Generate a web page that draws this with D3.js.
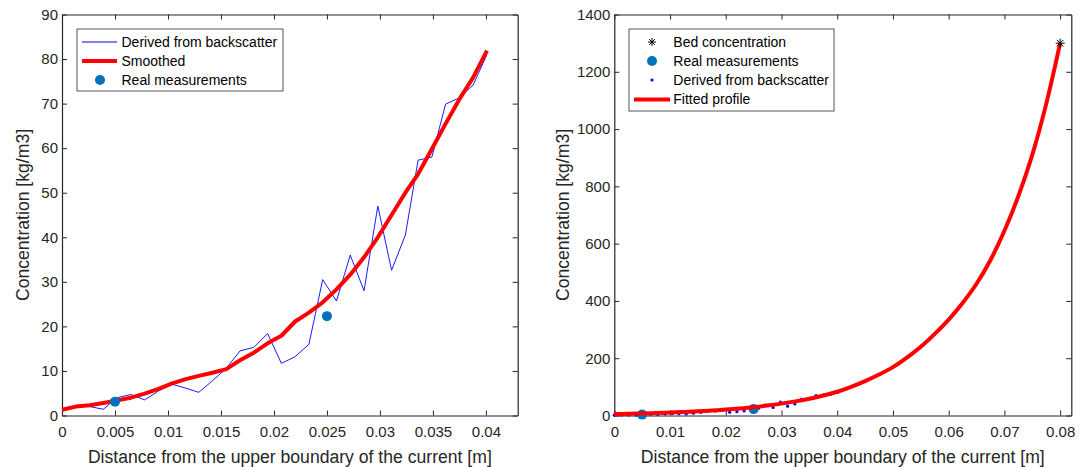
<!DOCTYPE html>
<html><head><meta charset="utf-8">
<script src="https://cdn.jsdelivr.net/npm/d3@7"></script>
<style>
body{margin:0;background:#fff;}
svg{display:block;font-family:"Liberation Sans",Arial,Helvetica,sans-serif;}
</style></head>
<body><svg id="chart" width="1091" height="467"></svg>
<script>
// ---- data ----
const derivedX = [0,0.0013,0.0026,0.0039,0.0052,0.0065,0.0078,0.0091,0.0104,0.0116,0.0129,0.0142,0.0155,0.0168,0.0181,0.0194,0.0207,0.0220,0.0233,0.0246,0.0259,0.0272,0.0285,0.0298,0.0311,0.0324,0.0336,0.0349,0.0362,0.0375,0.0388,0.0401];
const derivedY = [1.2,2.1,2.0,1.4,4.0,4.7,3.5,5.5,7.0,6.2,5.2,7.8,10.6,14.5,15.3,18.4,11.7,13.2,16.0,30.5,25.7,36.0,28.0,47.0,32.6,40.5,57.3,58.0,69.9,71.3,74.2,81.0];
const smoothedY = [1.3,2.0,2.3,2.8,3.4,4.0,4.9,6.0,7.2,8.1,8.9,9.6,10.4,12.4,14.1,16.2,17.9,21.1,23.1,25.4,28.3,31.6,35.5,40.0,45.0,50.0,54.2,59.8,65.5,71.0,75.9,81.9];
const realX = [0.005,0.025];
const realY = [3.1,22.3];
const bedX = [0.08];
const bedY = [1300];
const fitX = [0,0.0025,0.005,0.0075,0.01,0.0125,0.015,0.0175,0.02,0.0225,0.025,0.0275,0.03,0.0325,0.035,0.0375,0.04,0.0425,0.045,0.0475,0.05,0.0525,0.055,0.0575,0.06,0.0625,0.065,0.0675,0.07,0.0725,0.075,0.0775,0.08];
const fitY = [5,6,7.2,8.6,10.3,12.3,14.6,17.4,20.7,24.5,29,34.7,41.5,49.3,58.5,69.7,83,100,120,143,169,202,240,285,335,393,460,543,645,766,910,1088,1300];
const leftXTicks = [0,0.005,0.01,0.015,0.02,0.025,0.03,0.035,0.04];
const leftYTicks = [0,10,20,30,40,50,60,70,80,90];
const rightXTicks = [0,0.01,0.02,0.03,0.04,0.05,0.06,0.07,0.08];
const rightYTicks = [0,200,400,600,800,1000,1200,1400];
const xLabel = "Distance from the upper boundary of the current [m]";
const yLabel = "Concentration [kg/m3]";

const svg = d3.select("#chart");
const AX = "#262626";
const MBLUE = "#0072BD";
const FONT = "'Liberation Sans',Arial,sans-serif";

// MATLAB-style '*' marker (plus + cross)
const star = {draw(ctx, size){
  const r = Math.sqrt(size)/2, d = r*0.72;
  ctx.moveTo(-r,0); ctx.lineTo(r,0);
  ctx.moveTo(0,-r); ctx.lineTo(0,r);
  ctx.moveTo(-d,-d); ctx.lineTo(d,d);
  ctx.moveTo(-d,d); ctx.lineTo(d,-d);
}};

function panel(opt){
  const g = svg.append("g");
  const x = d3.scaleLinear().domain(opt.xdom).range([opt.x0, opt.x1]);
  const y = d3.scaleLinear().domain(opt.ydom).range([opt.y1, opt.y0]);
  const tl = 5;
  const fmt = d => String(+d.toPrecision(6));
  const bx = g.append("g").attr("transform",`translate(0,${opt.y1})`)
    .call(d3.axisBottom(x).tickValues(opt.xt).tickSizeInner(-tl).tickSizeOuter(0).tickPadding(11).tickFormat(fmt));
  const tx = g.append("g").attr("transform",`translate(0,${opt.y0})`)
    .call(d3.axisTop(x).tickValues(opt.xt).tickSizeInner(-tl).tickSizeOuter(0).tickFormat(""));
  const ly = g.append("g").attr("transform",`translate(${opt.x0},0)`)
    .call(d3.axisLeft(y).tickValues(opt.yt).tickSizeInner(-tl).tickSizeOuter(0).tickPadding(4).tickFormat(fmt));
  const ry = g.append("g").attr("transform",`translate(${opt.x1},0)`)
    .call(d3.axisRight(y).tickValues(opt.yt).tickSizeInner(-tl).tickSizeOuter(0).tickFormat(""));
  [bx,tx,ly,ry].forEach(a=>{
    a.selectAll("path").attr("stroke",AX).attr("stroke-width",1.2);
    a.selectAll("line").attr("stroke",AX).attr("stroke-width",1);
    a.selectAll("text").attr("fill",AX).style("font-size","15px").style("font-family",FONT);
  });
  g.append("text").attr("x",(opt.x0+opt.x1)/2).attr("y",463).attr("text-anchor","middle")
    .attr("fill",AX).style("font-size","17.6px").text(xLabel);
  g.append("text").attr("transform",`translate(${opt.ylx},${(opt.y0+opt.y1)/2}) rotate(-90)`)
    .attr("text-anchor","middle").attr("dy","0.35em").attr("fill",AX).style("font-size","17.6px").text(yLabel);
  const plot = g.append("g");
  return {g, x, y, plot};
}

// ---- left panel ----
const L = panel({x0:62, x1:517.7, y0:14.5, y1:415.5, ylx:23, xdom:[0,0.043], ydom:[0,90], xt:leftXTicks, yt:leftYTicks});
const ptsD = derivedX.map((d,i)=>[d,derivedY[i]]);
const ptsS = derivedX.map((d,i)=>[d,smoothedY[i]]);
const lineL = d3.line().x(d=>L.x(d[0])).y(d=>L.y(d[1]));
L.plot.append("path").attr("d",lineL(ptsD)).attr("fill","none").attr("stroke","#0000FF").attr("stroke-width",0.9);
L.plot.append("path").attr("d",lineL(ptsS)).attr("fill","none").attr("stroke","#FF0000").attr("stroke-width",4).attr("stroke-linejoin","round");
L.plot.selectAll(".rm").data(realX.map((d,i)=>[d,realY[i]])).enter().append("circle")
  .attr("cx",d=>L.x(d[0])).attr("cy",d=>L.y(d[1])).attr("r",5).attr("fill",MBLUE);
const lgL = L.g.append("g");
lgL.append("rect").attr("x",77).attr("y",29).attr("width",206).attr("height",62).attr("fill","#fff").attr("stroke","#555").attr("stroke-width",1);
lgL.append("line").attr("x1",82).attr("x2",117).attr("y1",42).attr("y2",42).attr("stroke","#0000FF").attr("stroke-width",1);
lgL.append("line").attr("x1",82).attr("x2",117).attr("y1",61).attr("y2",61).attr("stroke","#FF0000").attr("stroke-width",4);
lgL.append("circle").attr("cx",100).attr("cy",80).attr("r",5).attr("fill",MBLUE);
["Derived from backscatter","Smoothed","Real measurements"].forEach((t,i)=>{
  lgL.append("text").attr("x",121.5).attr("y",42+19*i).attr("dy","0.35em").attr("fill","#000").style("font-size","14px").text(t);
});

// ---- right panel ----
const R = panel({x0:614.3, x1:1071.3, y0:14.5, y1:415.5, ylx:563, xdom:[0,0.082], ydom:[0,1400], xt:rightXTicks, yt:rightYTicks});
const lineR = d3.line().x(d=>R.x(d[0])).y(d=>R.y(d[1])).curve(d3.curveCatmullRom.alpha(0.5));
R.plot.selectAll(".dd").data(ptsD).enter().append("circle")
  .attr("cx",d=>R.x(d[0])).attr("cy",d=>R.y(d[1])).attr("r",1.6).attr("fill","#0000FF");
R.plot.selectAll(".rm").data(realX.map((d,i)=>[d,realY[i]])).enter().append("circle")
  .attr("cx",d=>R.x(d[0])).attr("cy",d=>R.y(d[1])).attr("r",5).attr("fill",MBLUE);
R.plot.append("path").attr("d",lineR(fitX.map((d,i)=>[d,fitY[i]]))).attr("fill","none").attr("stroke","#FF0000").attr("stroke-width",4);
R.plot.selectAll(".bed").data(bedX.map((d,i)=>[d,bedY[i]])).enter().append("path")
  .attr("transform",d=>`translate(${R.x(d[0])},${R.y(d[1])})`)
  .attr("d",d3.symbol(star,81)()).attr("fill","none").attr("stroke","#000").attr("stroke-width",1);
const lgR = R.g.append("g");
lgR.append("rect").attr("x",629).attr("y",29).attr("width",205).attr("height",82).attr("fill","#fff").attr("stroke","#555").attr("stroke-width",1);
lgR.append("path").attr("transform","translate(652,42)").attr("d",d3.symbol(star,64)()).attr("fill","none").attr("stroke","#000").attr("stroke-width",1);
lgR.append("circle").attr("cx",652).attr("cy",61).attr("r",5).attr("fill",MBLUE);
lgR.append("circle").attr("cx",652).attr("cy",80).attr("r",1.6).attr("fill","#0000FF");
lgR.append("line").attr("x1",634).attr("x2",670).attr("y1",99.5).attr("y2",99.5).attr("stroke","#FF0000").attr("stroke-width",4);
["Bed concentration","Real measurements","Derived from backscatter","Fitted profile"].forEach((t,i)=>{
  lgR.append("text").attr("x",673.3).attr("y",42+19.1*i).attr("dy","0.35em").attr("fill","#000").style("font-size","14px").text(t);
});
</script></body></html>
